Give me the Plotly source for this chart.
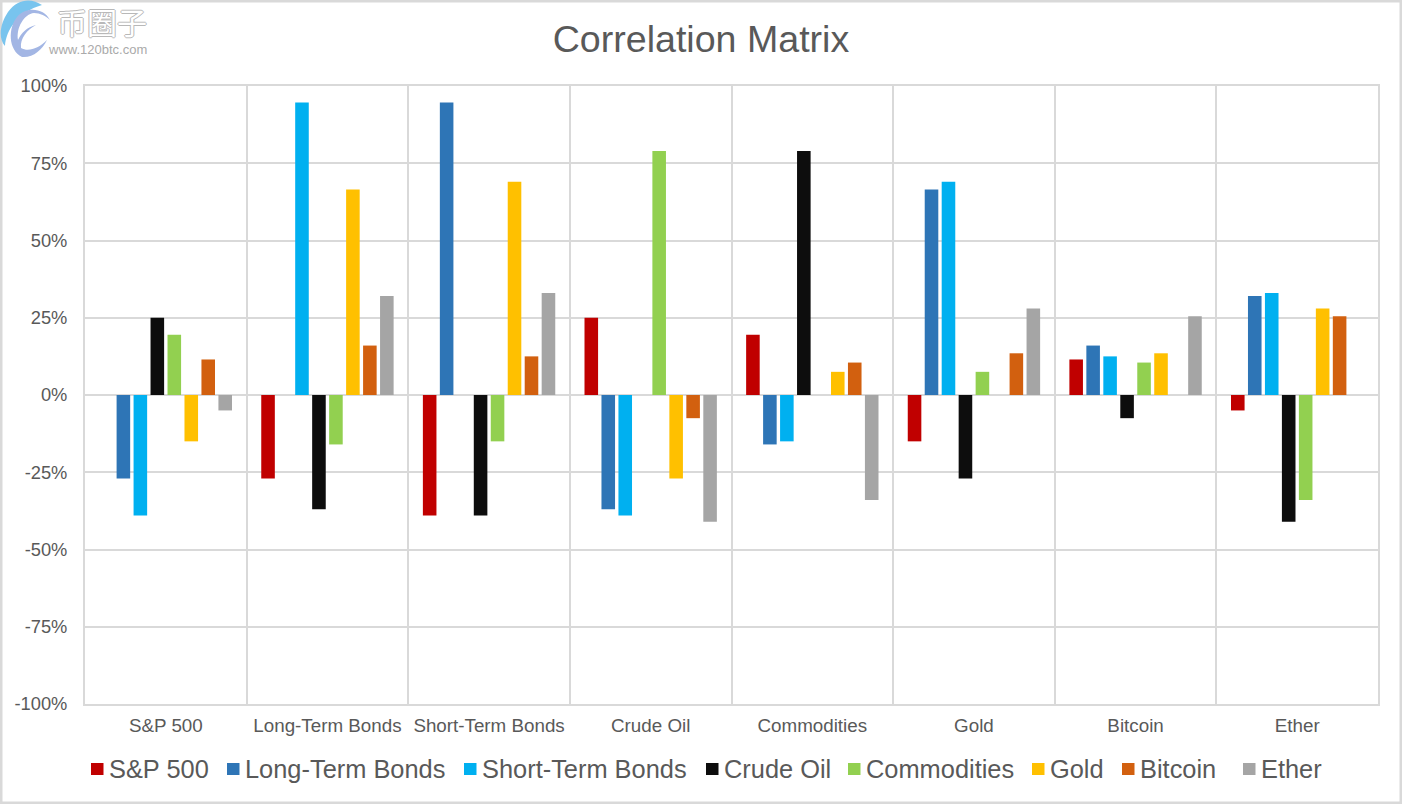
import plotly.graph_objects as go

categories = ['S&P 500', 'Long-Term Bonds', 'Short-Term Bonds', 'Crude Oil',
              'Commodities', 'Gold', 'Bitcoin', 'Ether']

sp500 = [None, -27, -39, 25, 19.5, -15, 11.5, -5]
long_bonds = [-27, None, 94.7, -37, -16, 66.5, 16, 32]
short_bonds = [-39, 94.7, None, -39, -15, 69, 12.5, 33]
crude_oil = [25, -37, -39, None, 79, -27, -7.5, -41]
commodities = [19.5, -16, -15, 79, None, 7.5, 10.5, -34]
gold = [-15, 66.5, 69, -27, 7.5, None, 13.5, 28]
bitcoin = [11.5, 16, 12.5, -7.5, 10.5, 13.5, None, 25.5]
ether = [-5, 32, 33, -41, -34, 28, 25.5, None]

series = [sp500, long_bonds, short_bonds, crude_oil, commodities, gold, bitcoin, ether]
colors = ['#c00000', '#2e75b6', '#00b0f0', '#0d0d0d', '#92d050', '#ffc000', '#d2600f', '#a5a5a5']

y_ticks = [-100, -75, -50, -25, 0, 25, 50, 75, 100]
y_labels = ['-100%', '-75%', '-50%', '-25%', '0%', '25%', '50%', '75%', '100%']

grid_color = '#d9d9d9'
text_color = '#595959'
font_name = 'Liberation Sans'

# figure and plot area, in pixels
fig_w, fig_h = 1402, 804
left, right, top, bottom = 85, 24, 86, 100
plot_w = fig_w - left - right
plot_h = fig_h - top - bottom

# left edge of each legend swatch, the legend has tighter spacing than plotly's own
legend_x = [91, 227, 464, 706, 848, 1032, 1122, 1243]
legend_y = 769


def px_x(x):
    return (x - left) / plot_w


def px_y(y):
    return 1 - (y - top) / plot_h


def px_path(commands):
    # commands are (letter, x1, y1, x2, y2, ...) in pixels from the figure's top left
    out = ''
    for c in commands:
        out += c[0]
        nums = c[1:]
        pairs = [f'{px_x(nums[j]):.5f},{px_y(nums[j + 1]):.5f}' for j in range(0, len(nums), 2)]
        out += ' '.join(pairs) + ' '
    return out + 'Z'


fig = go.Figure()

for i in range(len(series)):
    fig.add_trace(
        go.Bar(
            x=categories,
            y=series[i],
            name=categories[i],
            marker=dict(color=colors[i], line=dict(width=0)),
            showlegend=False,
        )
    )

fig.update_layout(
    width=fig_w,
    height=fig_h,
    margin=dict(l=left, r=right, t=top, b=bottom),
    paper_bgcolor='white',
    plot_bgcolor='white',
    barmode='group',
    bargap=0.16,
    bargroupgap=0.2,
    font=dict(family=font_name, color=text_color),
    title=dict(text='Correlation Matrix', x=0.5, xanchor='center', y=0.952, yanchor='middle',
               font=dict(size=37.6, color=text_color)),
)

fig.update_xaxes(
    type='category',
    tickson='boundaries',
    showgrid=True,
    gridcolor=grid_color,
    gridwidth=2,
    ticks='',
    showline=True,
    linecolor=grid_color,
    linewidth=2,
    mirror=True,
    ticklabelstandoff=3,
    tickfont=dict(size=18.8, color=text_color),
)

fig.update_yaxes(
    range=[-100, 100],
    tickvals=y_ticks,
    ticktext=y_labels,
    showgrid=True,
    gridcolor=grid_color,
    gridwidth=2,
    zeroline=True,
    zerolinecolor=grid_color,
    zerolinewidth=2,
    showline=True,
    linecolor=grid_color,
    linewidth=2,
    mirror=True,
    ticks='',
    ticklabelstandoff=12,
    tickfont=dict(size=18.3, color=text_color),
)

# outer chart border
fig.add_shape(type='rect', xref='paper', yref='paper',
              x0=px_x(1), x1=px_x(fig_w - 1), y0=px_y(fig_h - 1), y1=px_y(1),
              line=dict(color=grid_color, width=3), layer='below')

# legend
for i in range(len(categories)):
    fig.add_shape(type='rect', xref='paper', yref='paper',
                  x0=px_x(legend_x[i]), x1=px_x(legend_x[i] + 12.5),
                  y0=px_y(legend_y + 6), y1=px_y(legend_y - 6),
                  fillcolor=colors[i], line=dict(width=0))
    fig.add_annotation(text=categories[i], xref='paper', yref='paper',
                       x=px_x(legend_x[i] + 16), y=px_y(legend_y), xanchor='left', yanchor='middle',
                       showarrow=False, font=dict(size=25.4, color=text_color))

# watermark in the top left corner
outline = '-1px 0 #b8b8b8, 1px 0 #b8b8b8, 0 1px #b8b8b8, 0 -1px #b8b8b8'
fig.add_annotation(text='币圈子', xref='paper', yref='paper', x=px_x(55), y=px_y(21),
                   xanchor='left', yanchor='middle', showarrow=False,
                   font=dict(family='Noto Sans CJK SC', size=30, color='white', shadow=outline))
fig.add_annotation(text='www.120btc.com', xref='paper', yref='paper', x=px_x(46), y=px_y(49),
                   xanchor='left', yanchor='middle', showarrow=False,
                   font=dict(size=13, color='#aaaaaa'))
fig.add_shape(type='path', xref='paper', yref='paper', fillcolor='#78c4ee', line=dict(width=0),
              path=px_path([('M', 42, 5), ('C', 32, -2, 18, -2, 8, 12), ('C', 0, 24, -2, 38, 5, 46),
                            ('C', 6, 30, 18, 12, 42, 5)]))
fig.add_shape(type='path', xref='paper', yref='paper', fillcolor='#a3b6e4', line=dict(width=0),
              path=px_path([('M', 50, 20), ('C', 44, 8, 26, 6, 17, 17), ('C', 8, 28, 8, 50, 22, 57),
                            ('C', 33, 58, 42, 50, 47, 40), ('C', 38, 49, 28, 52, 21, 48),
                            ('C', 20, 38, 27, 30, 36, 25), ('C', 27, 27, 21, 33, 18, 40),
                            ('C', 16, 28, 24, 14, 34, 13), ('C', 40, 13, 46, 16, 50, 20)]))

# the page's default body margin would push the figure off its 1402x804 frame
fig.write_html("out.html", config=dict(displayModeBar=False),
               post_script="document.body.style.margin = '0';")
